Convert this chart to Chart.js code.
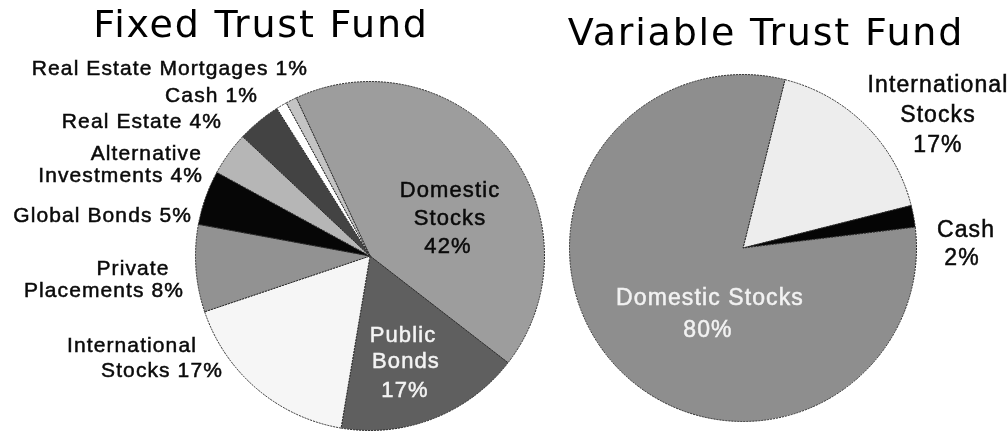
<!DOCTYPE html>
<html>
<head>
<meta charset="utf-8">
<script src="https://cdn.jsdelivr.net/npm/chart.js@4.4.1/dist/chart.umd.min.js"></script>
<style>
    html, body { margin: 0; padding: 0; background: #fff; }
    #wrap { position: relative; width: 1008px; height: 431px; overflow: hidden; }
    .box { position: absolute; top: 0; height: 431px; }
</style>
</head>
<body>
<div id="wrap">
    <div class="box" style="left:0;width:556px"><canvas id="fixed-chart"></canvas></div>
    <div class="box" style="left:556px;width:452px"><canvas id="variable-chart"></canvas></div>
</div>
<script>
// Fixed Trust Fund (clockwise from the Domestic Stocks edge)
const FIXED_CATEGORIES = ['Domestic Stocks', 'Public Bonds', 'International Stocks', 'Private Placements',
    'Global Bonds', 'Alternative Investments', 'Real Estate', 'Cash', 'Real Estate Mortgages'];
const FIXED_VALUES = [42, 17, 17, 8, 5, 4, 4, 1, 1];

// Variable Trust Fund
const VARIABLE_CATEGORIES = ['International Stocks', 'Cash', 'Domestic Stocks'];
const VARIABLE_VALUES = [17, 2, 80];

// label text, split into lines ('#' = slice value)
const FIXED_LABEL_LINES = [
    ['Domestic', 'Stocks', '#%'],
    ['Public', 'Bonds', '#%'],
    ['International', 'Stocks #%'],
    ['Private', 'Placements #%'],
    ['Global Bonds #%'],
    ['Alternative', 'Investments #%'],
    ['Real Estate #%'],
    ['Cash #%'],
    ['Real Estate Mortgages #%'],
];
const VARIABLE_LABEL_LINES = [
    ['International', 'Stocks', '#%'],
    ['Cash', '#%'],
    ['Domestic Stocks', '#%'],
];

const FIXED_COLORS = ['#9d9d9d', '#5f5f5f', '#f6f6f6', '#929292', '#060606', '#b6b6b6', '#434343', '#ffffff', '#c4c4c4'];
const VARIABLE_COLORS = ['#ededed', '#050505', '#8e8e8e'];

// where each label line sits, relative to the pie centre: [dx, dy(baseline), align]
const FIXED_LABEL_LAYOUT = [
    { color: '#0a0a0a', size: 22, pos: [[80, -59, 'center'], [80, -31, 'center'], [78, -3, 'center']] },
    { color: '#f4f4f4', size: 22, pos: [[33, 86, 'center'], [36, 112, 'center'], [35, 141, 'center']] },
    { color: '#0a0a0a', size: 21, pos: [[-238, 96, 'center'], [-208, 121, 'center']] },
    { color: '#0a0a0a', size: 21, pos: [[-237, 19, 'center'], [-266, 41, 'center']] },
    { color: '#0a0a0a', size: 21, pos: [[-178, -34, 'right']] },
    { color: '#0a0a0a', size: 21, pos: [[-168, -96, 'right'], [-167, -74, 'right']] },
    { color: '#0a0a0a', size: 21, pos: [[-148, -128, 'right']] },
    { color: '#0a0a0a', size: 21, pos: [[-112, -154, 'right']] },
    { color: '#0a0a0a', size: 21, pos: [[-62, -181, 'right']] },
];
const VARIABLE_LABEL_LAYOUT = [
    { color: '#0a0a0a', size: 23, pos: [[195, -156, 'center'], [195, -126, 'center'], [195, -96, 'center']] },
    { color: '#0a0a0a', size: 23, pos: [[223, -11, 'center'], [219, 17, 'center']] },
    { color: '#f2f2f2', size: 23, pos: [[-33, 57, 'center'], [-35, 89, 'center']] },
];

/**
 * Draws the fund title and the slice labels
 */
const fundLabelsPlugin = {
    id: 'fundLabels',
    afterDraw(chart, args, opts) {
        const ctx = chart.ctx;
        const arcs = chart.getDatasetMeta(0).data;
        if (!arcs.length) return;
        const cx = arcs[0].x;
        const cy = arcs[0].y;
        const values = chart.data.datasets[0].data;

        ctx.save();
        // title
        ctx.fillStyle = '#000';
        ctx.font = '38px "DejaVu Sans"';
        ctx.letterSpacing = '1.8px';
        ctx.textAlign = 'center';
        ctx.textBaseline = 'alphabetic';
        ctx.fillText(opts.title, opts.titleX, opts.titleY);

        // slice labels (thin stroke to get the heavier print look)
        ctx.letterSpacing = '1.1px';
        ctx.lineWidth = 0.5;
        opts.lines.forEach((lines, i) => {
            const lay = opts.layout[i];
            ctx.fillStyle = lay.color;
            ctx.strokeStyle = lay.color;
            ctx.font = `${lay.size}px "Liberation Sans", Arial, sans-serif`;
            lines.forEach((line, j) => {
                const p = lay.pos[j];
                const text = line.replace('#', values[i]);
                ctx.textAlign = p[2];
                ctx.fillText(text, cx + p[0], cy + p[1]);
                ctx.strokeText(text, cx + p[0], cy + p[1]);
            });
        });
        ctx.restore();
    }
};

function makePie(canvasId, categories, values, colors, rotation, padding, labelOpts) {
    const canvas = document.getElementById(canvasId);
    return new Chart(canvas.getContext('2d'), {
        type: 'pie',
        data: {
            labels: categories,
            datasets: [{
                data: values,
                backgroundColor: colors,
                borderColor: '#2a2a2a',
                borderWidth: 1,
                borderDash: [2, 1],
            }]
        },
        options: {
            responsive: true,
            maintainAspectRatio: false,
            animation: false,
            rotation: rotation,
            layout: { padding: padding },
            plugins: {
                legend: { display: false },
                tooltip: { enabled: false },
                fundLabels: labelOpts
            }
        },
        plugins: [fundLabelsPlugin]
    });
}

makePie('fixed-chart', FIXED_CATEGORIES, FIXED_VALUES, FIXED_COLORS, -25,
    { left: 195, right: 11, top: 81, bottom: 0 },
    { title: 'Fixed Trust Fund', titleX: 261, titleY: 37, lines: FIXED_LABEL_LINES, layout: FIXED_LABEL_LAYOUT });

makePie('variable-chart', VARIABLE_CATEGORIES, VARIABLE_VALUES, VARIABLE_COLORS, 14,
    { left: 13, right: 91, top: 74, bottom: 9 },
    { title: 'Variable Trust Fund', titleX: 210, titleY: 45, lines: VARIABLE_LABEL_LINES, layout: VARIABLE_LABEL_LAYOUT });
</script>
</body>
</html>
